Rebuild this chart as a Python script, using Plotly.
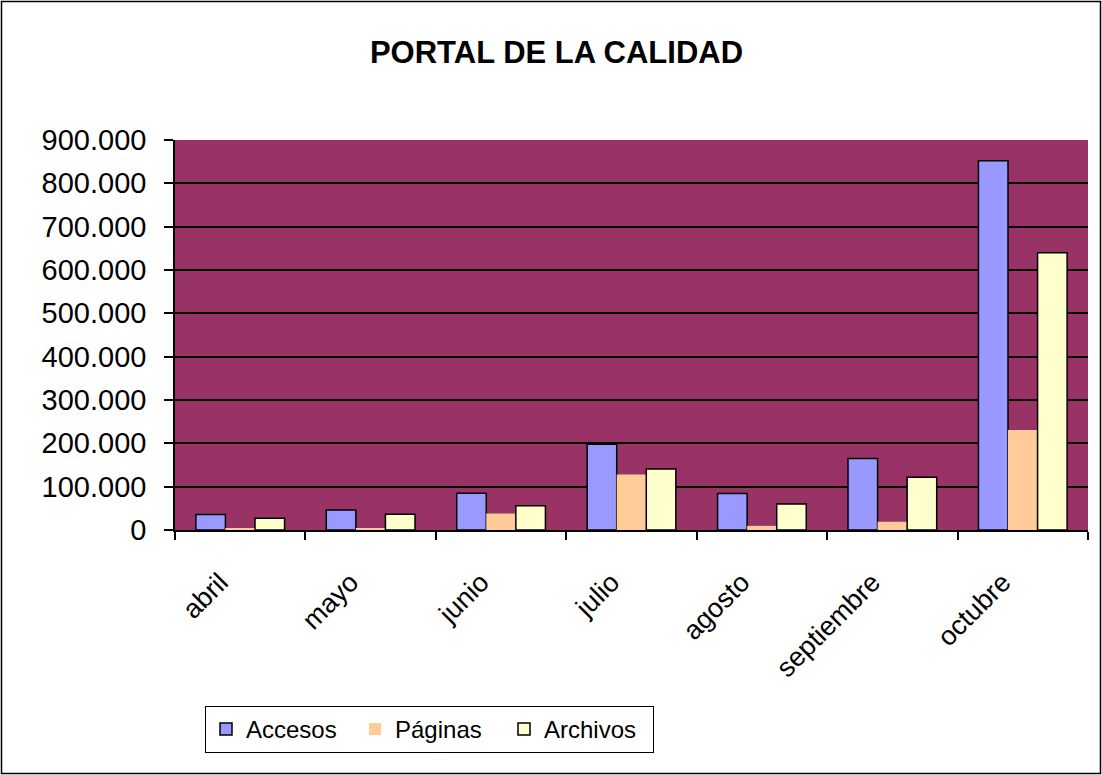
import plotly.graph_objects as go

months = ["abril", "mayo", "junio", "julio", "agosto", "septiembre", "octubre"]
accesos = [36000, 46000, 85000, 198000, 84000, 165000, 852000]
paginas = [4000, 4000, 38000, 128000, 9500, 19000, 231000]
archivos = [27000, 36500, 56000, 141000, 60000, 122000, 640000]

W, H = 1102, 775
L, R, T, B = 175, 14, 140, 245
pw, ph = W - L - R, H - T - B

FONT = "Arial, Liberation Sans, sans-serif"

fig = go.Figure()
fig.add_bar(name="Accesos", x=months, y=accesos,
            marker=dict(color="#9999FF", line=dict(color="black", width=1.5)))
fig.add_bar(name="Páginas", x=months, y=paginas,
            marker=dict(color="#FFCC99", line=dict(color="#FFCC99", width=0)))
fig.add_bar(name="Archivos", x=months, y=archivos,
            marker=dict(color="#FFFFCC", line=dict(color="black", width=1.5)))

def px_x(x):
    return (x - L) / pw

def px_y(y):
    return (H - B - y) / ph

fig.update_layout(
    width=W, height=H,
    margin=dict(l=L, r=R, t=T, b=B, autoexpand=False),
    paper_bgcolor="white",
    plot_bgcolor="#993366",
    separators=",.",
    barmode="group",
    bargap=0.32,
    bargroupgap=0,
    font=dict(family=FONT, color="black"),
    title=dict(text="<b>PORTAL DE LA CALIDAD</b>", font=dict(size=31, family=FONT, color="black"),
               x=0.505, xref="container", xanchor="center",
               y=1 - 52 / H, yref="container", yanchor="middle"),
    legend=dict(orientation="h", x=px_x(205), y=px_y(706), xanchor="left", yanchor="top",
                bordercolor="black", borderwidth=1, bgcolor="white",
                font=dict(size=24, family=FONT, color="black"),
                itemwidth=30, entrywidth=104, entrywidthmode="pixels",
                traceorder="normal"),
    xaxis=dict(type="category", tickangle=-45, tickson="boundaries",
               ticks="outside", ticklen=8, tickcolor="black", tickwidth=1.5,
               showline=True, linecolor="black", linewidth=1.5,
               ticklabelstandoff=24, ticklabelshift=-20,
               showgrid=False, tickfont=dict(size=27, family=FONT, color="black")),
    yaxis=dict(range=[0, 900000], dtick=100000, tickformat=",d",
               ticks="outside", ticklen=9, tickcolor="black", tickwidth=1.5,
               showline=True, linecolor="black", linewidth=1.5,
               showgrid=True, gridcolor="black", gridwidth=1.5, zeroline=False,
               ticklabelstandoff=12,
               tickfont=dict(size=29, family=FONT, color="black")),
    shapes=[dict(type="rect", xref="paper", yref="paper",
                 x0=px_x(1.5), x1=px_x(W - 1.5), y0=px_y(H - 1.5), y1=px_y(1.5),
                 line=dict(color="black", width=1.5), fillcolor="rgba(0,0,0,0)",
                 layer="below")],
)

fig.write_html("out.html", config={"displayModeBar": False},
               post_script="document.body.style.margin='0';document.body.style.padding='0';")
